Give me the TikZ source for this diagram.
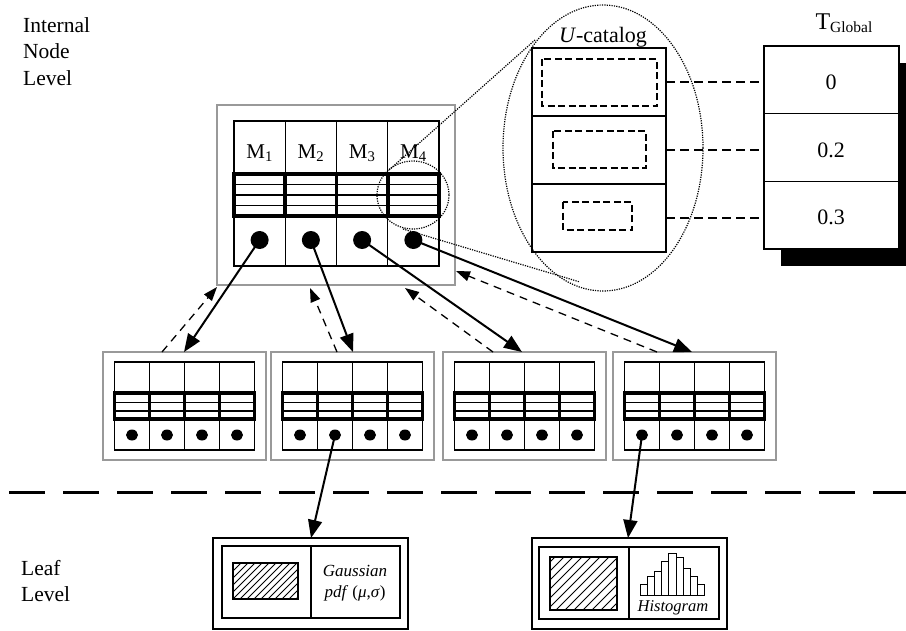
\documentclass[tikz,border=0pt]{standalone}
\usepackage{fontspec}
\setmainfont{Liberation Serif}
\usetikzlibrary{arrows.meta,shapes.geometric}
\begin{document}
\begin{tikzpicture}[x=1pt,y=-1pt,
  graybox/.style={draw=black!40, line width=1.1pt},
  thinline/.style={draw=black, line width=1.2pt},
  bandline/.style={draw=black, line width=3.8pt},
  sbandline/.style={draw=black, line width=3.2pt},
  bigdot/.style={circle, fill=black, inner sep=0pt, minimum size=18pt},
  smalldot/.style={ellipse, fill=black, inner sep=0pt, minimum width=12pt, minimum height=11pt},
  solidarrow/.style={draw=black, line width=2pt, -{Triangle[length=18pt,width=14pt]}},
  dasharrow/.style={draw=black, line width=1.3pt, dash pattern=on 8pt off 6pt, -{Triangle[length=14pt,width=10pt]}},
  magline/.style={draw=black, line width=1.2pt, dash pattern=on 1.2pt off 1.2pt},
  dashconn/.style={draw=black, line width=1.3pt, dash pattern=on 9pt off 5pt},
  dashrect/.style={draw=black, line width=1.2pt, dash pattern=on 7pt off 3.5pt},
  lbl/.style={font=\fontsize{21.5}{21.5}\selectfont, inner sep=0pt},
  boxline/.style={draw=black, line width=1.5pt},
  hatchline/.style={draw=black, line width=0.9pt},
]
\useasboundingbox (0,0) rectangle (906,630);

% ---------- level labels ----------
\node[lbl, anchor=base west] (l1) at (23,32) {Internal};
\node[lbl, anchor=base west] (l2) at (23,58.5) {Node};
\node[lbl, anchor=base west] (l3) at (23,85) {Level};
\node[lbl, anchor=base west] (l4) at (21,575) {Leaf};
\node[lbl, anchor=base west] (l5) at (21,601) {Level};

% ---------- internal node ----------
\draw[graybox] (217,105) rectangle (455,285);
\draw[thinline] (234,121) rectangle (439,266);
\foreach \k in {1,2,3} \draw[thinline] ({234+51.25*\k},121) -- ({234+51.25*\k},266);
\foreach \yy in {184.5,195,205.5} \draw[thinline] (234,\yy) -- (439,\yy);
\draw[bandline] (234,174) rectangle (439,216);
\foreach \k in {1,2,3} \draw[bandline] ({234+51.25*\k},174) -- ({234+51.25*\k},216);
\foreach \i in {1,...,4} {
  \node[bigdot] (m\i) at ({234+51.25*(\i-0.5)},240) {};
  \node[inner sep=0pt, anchor=base, font=\fontsize{21}{21}\selectfont] (ml\i) at ({234+51.25*(\i-0.5)},158) {M\textsubscript{\i}};
}

% ---------- magnifier ----------
\draw[magline] (413,195) ellipse [x radius=36, y radius=34];
\coordinate (mgA) at (389,170);
\coordinate (mgB) at (535,40);
\coordinate (mgC) at (403,229);
\coordinate (mgD) at (580,282);
\draw[magline] (mgA) -- (mgB);
\draw[magline] (mgC) -- (mgD);

% ---------- U-catalog ----------
\draw[thinline] (532,48) rectangle (666,252);
\draw[thinline] (532,116) -- (666,116) (532,184) -- (666,184);
\draw[dashrect] (542,59) rectangle (657,106);
\draw[dashrect] (553,131) rectangle (646,168);
\draw[dashrect] (563,202) rectangle (632,230);
\draw[magline] (603,148) ellipse [x radius=100, y radius=143];
\node[inner sep=0pt, anchor=base, font=\fontsize{22}{22}\selectfont] (ucat) at (603,42.5) {\textit{U}-catalog};

% ---------- T Global ----------
\fill[black] (781,63) rectangle (906,266);
\draw[thinline, fill=white] (764,46) rectangle (899,249);
\draw[thinline] (764,113.5) -- (899,113.5) (764,181.5) -- (899,181.5);
\node[inner sep=0pt, anchor=base, font=\fontsize{24}{24}\selectfont] (tg) at (844,29.5) {T\raisebox{-2.5pt}{\fontsize{15.5}{15.5}\selectfont Global}};
\node[inner sep=0pt, anchor=base, font=\fontsize{22}{22}\selectfont] (v0) at (831,89.5) {0};
\node[inner sep=0pt, anchor=base, font=\fontsize{22}{22}\selectfont] (v1) at (831,157) {0.2};
\node[inner sep=0pt, anchor=base, font=\fontsize{22}{22}\selectfont] (v2) at (831,224) {0.3};
\coordinate (ua) at (666,82);  \coordinate (ta) at (764,82);
\coordinate (ub) at (666,150); \coordinate (tb) at (764,150);
\coordinate (uc) at (666,218); \coordinate (tc) at (764,218);
\draw[dashconn] (ua) -- (ta);
\draw[dashconn] (ub) -- (tb);
\draw[dashconn] (uc) -- (tc);

% ---------- lower internal nodes ----------
\foreach \L/\n in {103/A,271/B,443/C,613/D} {
  \begin{scope}[shift={(\L,0)}]
    \draw[graybox] (0,352) rectangle (163,460);
    \draw[thinline] (11.5,362) rectangle (151.5,450);
    \foreach \k in {1,2,3} \draw[thinline] ({11.5+35*\k},362) -- ({11.5+35*\k},450);
    \draw[thinline] (11.5,402.5) -- (151.5,402.5) (11.5,411) -- (151.5,411);
    \draw[sbandline] (11.5,393) rectangle (151.5,419);
    \foreach \k in {1,2,3} \draw[sbandline] ({11.5+35*\k},393) -- ({11.5+35*\k},419);
    \foreach \k in {1,...,4} \node[smalldot] (\n\k) at ({11.5+35*\k-17.5},435) {};
  \end{scope}
}

% ---------- arrows between levels ----------
\coordinate (tA) at (184,352); \coordinate (sA) at (162,352); \coordinate (eA) at (217,287);
\coordinate (tB) at (353,352); \coordinate (sB) at (337,352); \coordinate (eB) at (310,288);
\coordinate (tC) at (522,352); \coordinate (sC) at (493,352); \coordinate (eC) at (405,288);
\coordinate (tD) at (692,352); \coordinate (sD) at (657,352); \coordinate (eD) at (456,271);
\draw[solidarrow] (m1.center) -- (tA);
\draw[solidarrow] (m2.center) -- (tB);
\draw[solidarrow] (m3.center) -- (tC);
\draw[solidarrow] (m4.center) -- (tD);
\draw[dasharrow] (sA) -- (eA);
\draw[dasharrow] (sB) -- (eB);
\draw[dasharrow] (sC) -- (eC);
\draw[dasharrow] (sD) -- (eD);

% ---------- separator ----------
\coordinate (sepL) at (9,492);
\coordinate (sepR) at (906,492);
\draw[line width=3pt, dash pattern=on 36pt off 18pt] (sepL) -- (sepR);

% ---------- leaf: Gaussian ----------
\draw[boxline] (213,538) rectangle (408,629);
\draw[boxline] (222,546) rectangle (400,618);
\draw[boxline] (311,546) -- (311,618);
\begin{scope}
  \clip (233,563) rectangle (298,599);
  \foreach \t in {-42,-35,...,70} \draw[hatchline] ({233+\t},599) -- ({269+\t},563);
\end{scope}
\draw[boxline] (233,563) rectangle (298,599);
\node[inner sep=0pt, anchor=base, font=\fontsize{17}{17}\selectfont\itshape] (gs1) at (355,576) {Gaussian};
\node[inner sep=0pt, anchor=base, font=\fontsize{17}{17}\selectfont] (gs2) at (355,597) {\textit{pdf} (\textit{μ},\textit{σ})};

% ---------- leaf: Histogram ----------
\draw[boxline] (532,538) rectangle (727,629);
\draw[boxline] (539,547) rectangle (719,619);
\draw[boxline] (629,547) -- (629,619);
\begin{scope}
  \clip (550,557) rectangle (617,610);
  \foreach \t in {-57,-48,...,75} \draw[hatchline] ({550+\t},610) -- ({603+\t},557);
\end{scope}
\draw[boxline] (550,557) rectangle (617,610);
\foreach \h [count=\i] in {10.7,19,23.3,33.3,41.7,37.3,26.7,18.3,10.7}
  \draw[line width=1pt, fill=white] ({640+7.2*(\i-1)},595) rectangle ({640+7.2*\i},{595-\h});
\node[inner sep=0pt, anchor=base, font=\fontsize{16.5}{16.5}\selectfont\itshape] (hs) at (673,611) {Histogram};

\coordinate (gtip) at (311,538);
\coordinate (htip) at (628,538);
\draw[solidarrow] (B2.center) -- (gtip);
\draw[solidarrow] (D1.center) -- (htip);

\end{tikzpicture}
\end{document}
